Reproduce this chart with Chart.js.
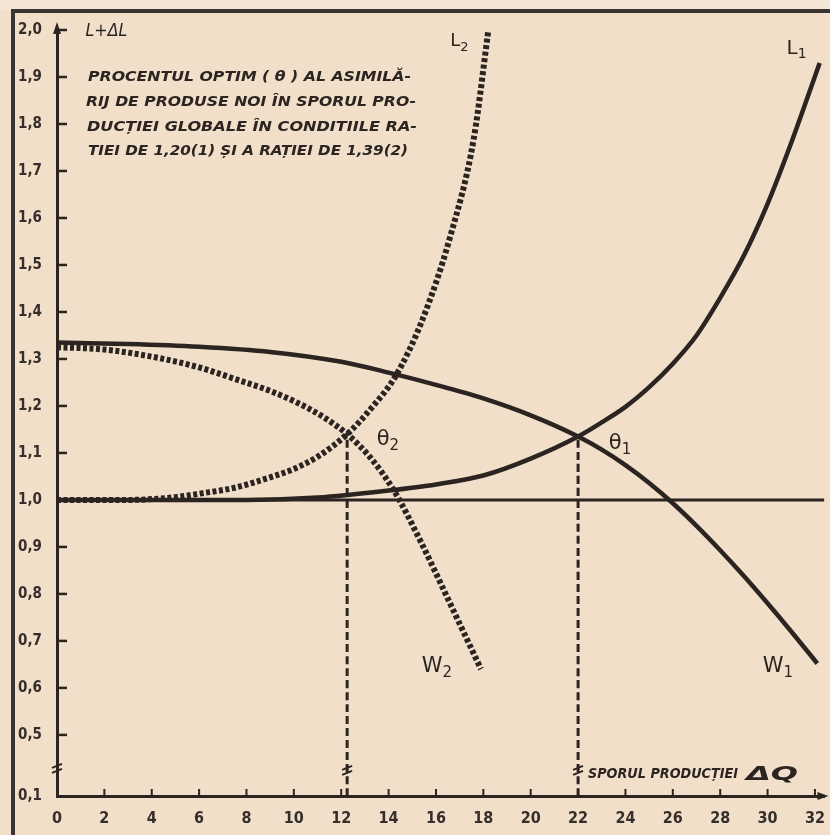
<!DOCTYPE html>
<html>
<head>
<meta charset="utf-8">
<script src="https://cdn.jsdelivr.net/npm/chart.js@4.4.0/dist/chart.umd.min.js"></script>
<style>
  html, body { margin: 0; padding: 0; background: #f1dfca; }
  #wrap { width: 830px; height: 835px; }
</style>
</head>
<body>
<div id="wrap"><canvas id="c" width="830" height="835"></canvas></div>
<script>
const ink = "#2b2420";
const paper = "#f1dfca";
const tickFont = "'DejaVu Sans Condensed', 'DejaVu Sans', sans-serif";

// axes
const xTicks = [0, 2, 4, 6, 8, 10, 12, 14, 16, 18, 20, 22, 24, 26, 28, 30, 32];
const yTicks = [0.37, 0.5, 0.6, 0.7, 0.8, 0.9, 1.0, 1.1, 1.2, 1.3, 1.4, 1.5, 1.6, 1.7, 1.8, 1.9, 2.0];
const yTickLabels = ["0,1", "0,5", "0,6", "0,7", "0,8", "0,9", "1,0", "1,1", "1,2", "1,3", "1,4", "1,5", "1,6", "1,7", "1,8", "1,9", "2,0"];

// curves (1) ratio 1,20 - solid
const l1X = [0, 4, 8, 11, 14, 16, 18, 20, 22, 23, 24, 25, 26, 27, 28, 29, 30, 31, 32.2];
const l1Y = [1.0, 1.0, 1.0, 1.005, 1.02, 1.033, 1.052, 1.088, 1.135, 1.165, 1.198, 1.24, 1.29, 1.35, 1.43, 1.52, 1.63, 1.76, 1.93];
const w1X = [0, 3, 6, 9, 12, 14, 16, 18, 20, 22, 23, 24, 25, 26, 27, 28, 29, 30, 31, 32.1];
const w1Y = [1.335, 1.332, 1.326, 1.315, 1.294, 1.271, 1.245, 1.216, 1.18, 1.135, 1.107, 1.074, 1.036, 0.993, 0.945, 0.893, 0.838, 0.78, 0.72, 0.652];

// curves (2) ratio 1,39 - dashed
const l2X = [0, 3, 5, 6.1, 7.5, 8.8, 10, 11, 12.25, 13.3, 14.3, 15.4, 16.6, 17.6, 18.2];
const l2Y = [1.0, 1.0, 1.006, 1.014, 1.026, 1.045, 1.066, 1.092, 1.14, 1.197, 1.264, 1.38, 1.56, 1.77, 1.995];
const w2X = [0, 2, 4.3, 6, 7.6, 9, 10.1, 11.2, 12.25, 13.2, 14.2, 15.4, 16.5, 17.9];
const w2Y = [1.325, 1.32, 1.302, 1.282, 1.256, 1.232, 1.208, 1.178, 1.14, 1.092, 1.022, 0.907, 0.79, 0.64];

// reference lines
const baseX = [0, 32.4];
const baseY = [1.0, 1.0];
const theta2X = [12.25, 12.25];
const theta2Y = [0.37, 1.14];
const theta1X = [22, 22];
const theta1Y = [0.37, 1.135];

const pts = (xs, ys) => xs.map((x, i) => ({ x, y: ys[i] }));

const line = (xs, ys, width, dash) => ({
  data: pts(xs, ys),
  borderColor: ink,
  borderWidth: width,
  borderDash: dash || [],
  pointRadius: 0,
  cubicInterpolationMode: "monotone",
  fill: false
});

function fitText(ctx, text, x, y, width) {
  const w = ctx.measureText(text).width;
  ctx.save();
  ctx.translate(x, y);
  ctx.scale(width / w, 1);
  ctx.fillText(text, 0, 0);
  ctx.restore();
}

function subLabel(ctx, main, sub, x, y, size) {
  ctx.font = size + "px 'DejaVu Sans', sans-serif";
  ctx.textAlign = "left";
  ctx.textBaseline = "middle";
  const w = ctx.measureText(main).width;
  ctx.fillText(main, x, y);
  ctx.font = Math.round(size * 0.7) + "px 'DejaVu Sans', sans-serif";
  ctx.fillText(sub, x + w, y + size * 0.3);
}

const breakMark = (ctx, x, y) => {
  ctx.save();
  ctx.strokeStyle = ink;
  ctx.lineWidth = 2;
  [-2, 3].forEach((d) => {
    ctx.beginPath();
    ctx.moveTo(x - 5, y + d + 2);
    ctx.lineTo(x + 5, y + d - 2);
    ctx.stroke();
  });
  ctx.restore();
};

const paperPlugin = {
  id: "paper",
  beforeDraw(chart) {
    const { ctx, width, height } = chart;
    ctx.save();
    ctx.fillStyle = paper;
    ctx.fillRect(0, 0, width, height);
    ctx.fillStyle = "#f4e6d6";
    ctx.fillRect(0, 0, width, 10);
    // frame of the figure
    ctx.strokeStyle = "#3b3531";
    ctx.lineWidth = 4;
    ctx.beginPath();
    ctx.moveTo(13, height);
    ctx.lineTo(13, 11);
    ctx.lineTo(width, 11);
    ctx.stroke();
    ctx.restore();
  },
  afterDraw(chart) {
    const { ctx, chartArea: a, scales: { x, y } } = chart;
    ctx.save();
    ctx.fillStyle = ink;
    ctx.strokeStyle = ink;

    // tick marks inside the axes
    ctx.lineWidth = 2.5;
    yTicks.slice(1).forEach((v) => {
      const py = y.getPixelForValue(v);
      ctx.beginPath();
      ctx.moveTo(a.left, py);
      ctx.lineTo(a.left + 10, py);
      ctx.stroke();
    });
    ctx.lineWidth = 2;
    xTicks.slice(1).forEach((v) => {
      const px = x.getPixelForValue(v);
      ctx.beginPath();
      ctx.moveTo(px, a.bottom);
      ctx.lineTo(px, a.bottom - 7);
      ctx.stroke();
    });

    // arrow heads
    ctx.beginPath();
    ctx.moveTo(a.left, a.top - 8);
    ctx.lineTo(a.left - 4, a.top + 4);
    ctx.lineTo(a.left + 4, a.top + 4);
    ctx.closePath();
    ctx.fill();
    ctx.beginPath();
    ctx.moveTo(a.right + 4, a.bottom);
    ctx.lineTo(a.right - 7, a.bottom - 4);
    ctx.lineTo(a.right - 7, a.bottom + 4);
    ctx.closePath();
    ctx.fill();

    // axis breaks
    const yb = y.getPixelForValue(0.43);
    breakMark(ctx, a.left, yb);
    breakMark(ctx, x.getPixelForValue(theta2X[0]), yb + 2);
    breakMark(ctx, x.getPixelForValue(theta1X[0]), yb + 2);

    // y axis title
    ctx.textBaseline = "middle";
    ctx.textAlign = "left";
    ctx.font = "italic 17px 'DejaVu Sans', sans-serif";
    fitText(ctx, "L+ΔL", x.getPixelForValue(1.2), y.getPixelForValue(1.996), 42);

    // caption
    ctx.font = "italic bold 14px 'DejaVu Sans Condensed', 'DejaVu Sans', sans-serif";
    const cap = [
      ["PROCENTUL OPTIM ( θ ) AL ASIMILĂ-", 88, 77, 323],
      ["RIJ DE PRODUSE NOI ÎN SPORUL PRO-", 86, 102, 330],
      ["DUCȚIEI GLOBALE ÎN CONDITIILE RA-", 87, 127, 330],
      ["TIEI DE 1,20(1) ȘI A RAȚIEI DE 1,39(2)", 88, 151, 320]
    ];
    cap.forEach(([t, cx, cy, w]) => fitText(ctx, t, cx, cy, w));

    // x axis title
    const sx = x.getPixelForValue(22.25);
    const sy = y.getPixelForValue(0.415);
    ctx.font = "italic bold 14px 'DejaVu Sans Condensed', 'DejaVu Sans', sans-serif";
    fitText(ctx, "SPORUL PRODUCȚIEI", sx + 4, sy, 150);
    ctx.font = "italic bold 19px 'DejaVu Sans', sans-serif";
    fitText(ctx, "ΔQ", sx + 162, sy, 52);

    // curve labels
    subLabel(ctx, "L", "2", x.getPixelForValue(16.6), y.getPixelForValue(1.975), 18);
    subLabel(ctx, "L", "1", x.getPixelForValue(30.8), y.getPixelForValue(1.96), 20);
    subLabel(ctx, "W", "2", x.getPixelForValue(15.4), y.getPixelForValue(0.645), 21);
    subLabel(ctx, "W", "1", x.getPixelForValue(29.8), y.getPixelForValue(0.645), 21);
    subLabel(ctx, "θ", "2", x.getPixelForValue(13.5), y.getPixelForValue(1.128), 21);
    subLabel(ctx, "θ", "1", x.getPixelForValue(23.3), y.getPixelForValue(1.12), 21);
    ctx.restore();
  }
};

new Chart(document.getElementById("c"), {
  type: "line",
  data: {
    datasets: [
      line(baseX, baseY, 3),
      line(theta2X, theta2Y, 3, [8, 4]),
      line(theta1X, theta1Y, 3, [8, 4]),
      line(l1X, l1Y, 4.5),
      line(w1X, w1Y, 4.5),
      line(l2X, l2Y, 6, [4, 2.5]),
      line(w2X, w2Y, 6, [4, 2.5])
    ]
  },
  options: {
    responsive: false,
    animation: false,
    layout: { padding: { top: 30, right: 4, left: 0, bottom: 0 } },
    plugins: { legend: { display: false }, tooltip: { enabled: false } },
    scales: {
      x: {
        type: "linear",
        min: 0,
        max: 32.4,
        grid: { display: false },
        border: { display: true, color: ink, width: 3 },
        afterBuildTicks: (s) => { s.ticks = xTicks.map((v) => ({ value: v })); },
        afterFit: (s) => { s.height = 39; },
        ticks: {
          autoSkip: false,
          maxRotation: 0,
          padding: 5,
          color: "#352e2a",
          font: { family: tickFont, size: 16, weight: "bold" },
          callback: (v) => String(v)
        }
      },
      y: {
        type: "linear",
        min: 0.37,
        max: 2.0,
        grid: { display: false },
        border: { display: true, color: ink, width: 3 },
        afterBuildTicks: (s) => { s.ticks = yTicks.map((v) => ({ value: v })); },
        afterFit: (s) => { s.width = 57; },
        ticks: {
          autoSkip: false,
          padding: 7,
          color: "#352e2a",
          font: { family: tickFont, size: 15, weight: "bold" },
          callback: (v, i) => yTickLabels[i]
        }
      }
    }
  },
  plugins: [paperPlugin]
});
</script>
</body>
</html>
